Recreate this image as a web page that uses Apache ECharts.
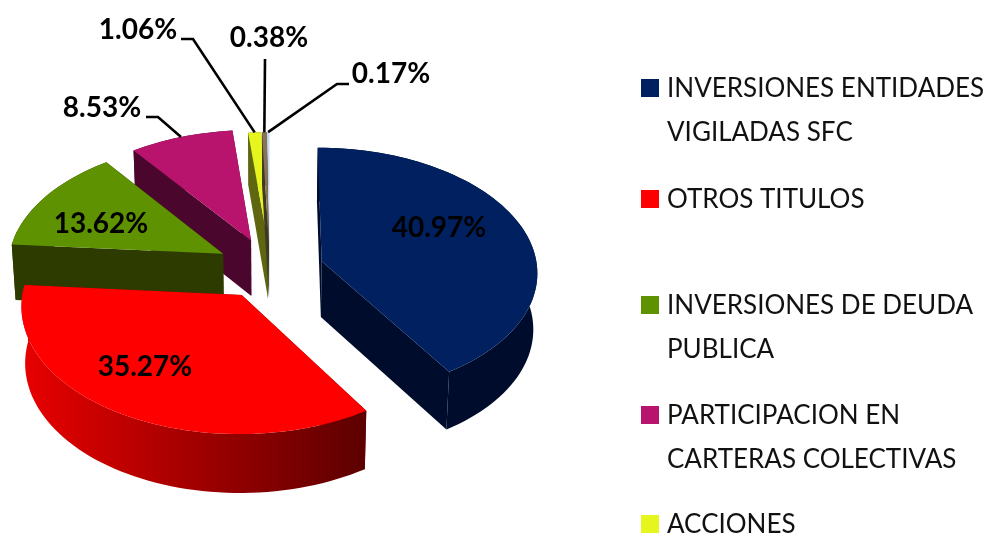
<!DOCTYPE html>
<html>
<head>
<meta charset="utf-8">
<style>html,body{margin:0;padding:0;background:#fff}#chart{width:993px;height:537px}</style>
<script src="https://cdn.jsdelivr.net/npm/echarts@6/dist/echarts.min.js"></script>
</head>
<body>
<div id="chart"></div>
<script>
// shares as printed on the slices, clockwise from 12 o'clock
var shares = [40.97, 35.27, 13.62, 8.53, 1.06, 0.38, 0.17]
var legendNames = [
  'INVERSIONES ENTIDADES\nVIGILADAS SFC',
  'OTROS TITULOS',
  'INVERSIONES DE DEUDA\nPUBLICA',
  'PARTICIPACION EN\nCARTERAS COLECTIVAS',
  'ACCIONES'
]

var topColors = ['#002060', '#ff0000', '#5f9200', '#b8146e', '#e6f51e', '#8a7355', '#c5d9f1']
var wallFrom = ['#000c2b', '#e80000', '#2d3b00', '#4a062c', '#5f6610', '#3e3a22', '#8ea0b8']
var wallTo = ['#000c2b', '#5c0000', '#2d3b00', '#4a062c', '#5f6610', '#3e3a22', '#8ea0b8']
var radialColors = ['#000c2b', '#7a0000', '#2d3b00', '#4a062c', '#5f6610', '#3e3a22', '#8ea0b8']
// how far each slice is pulled out, in pie radii (sideways, towards the viewer)
var pullU = [0.25, -0.12, -0.21, -0.08, 0.0, 0.004, 0.006]
var pullV = [-0.08, 0.19, -0.14, -0.25, -0.23, -0.23, -0.23]
var paintOrder = [5, 6, 3, 2, 1, 7, 4] // back slices first, red last
var labelPos = [[439, 228], [145, 367], [101, 224], [102, 108], [138, 30], [269, 38], [391, 74]]
var elbows = [null, null, null, [[146, 117], [158, 117]], [[181, 39], [193, 39]], [[265, 59]], [[349, 84], [337, 84]]]

// pie geometry and perspective
var cx = 268, cy = 271, rx = 216, ry = 124, persp = 0.08, depth = 56
var startDeg = 0

function project(u, v, low) {
  var s = 1 / (1 - persp * v)
  var x = cx + rx * u * s
  var y = cy + ry * v * s
  if (low) {
    x = cx + (x - cx) * 0.985
    y += depth * Math.sqrt(s)
  }
  return [x, y]
}

function sliceAngles(i) {
  var total = shares.reduce(function (a, b) { return a + b }, 0)
  var before = 0
  for (var k = 0; k < i; k++) before += shares[k]
  return [startDeg + before / total * 360, startDeg + (before + shares[i]) / total * 360]
}

function renderSlice(params, api) {
  var i = params.dataIndex
  var ang = sliceAngles(i)
  var mid = (ang[0] + ang[1]) / 2 * Math.PI / 180
  var ou = pullU[i]
  var ov = pullV[i]
  var steps = Math.max(2, Math.ceil((ang[1] - ang[0]) / 2))
  var rimTop = [], rimLow = []
  for (var n = 0; n <= steps; n++) {
    var t = (ang[0] + (ang[1] - ang[0]) * n / steps) * Math.PI / 180
    var u = ou + Math.sin(t), v = ov - Math.cos(t)
    rimTop.push(project(u, v, false))
    rimLow.push(project(u, v, true))
  }
  var apexTop = project(ou, ov, false)
  var apexLow = project(ou, ov, true)
  var z = paintOrder[i] * 10
  var xs = rimTop.map(function (p) { return p[0] })
  var wallFill = new echarts.graphic.LinearGradient(
    Math.min.apply(null, xs), 0, Math.max.apply(null, xs), 0,
    [{ offset: 0, color: wallFrom[i] }, { offset: 1, color: wallTo[i] }], true)

  function poly(points, fill, z2) {
    return { type: 'polygon', shape: { points: points }, style: { fill: fill }, z2: z2, silent: true }
  }
  var children = [
    poly([apexTop, rimTop[0], rimLow[0], apexLow], radialColors[i], z),
    poly([apexTop, rimTop[steps], rimLow[steps], apexLow], radialColors[i], z),
    poly(rimTop.concat(rimLow.slice().reverse()), wallFill, z + 1),
    poly([apexTop].concat(rimTop), topColors[i], z + 2)
  ]

  // outside labels get an elbow line down to the middle of the rim
  if (elbows[i]) {
    var rimMid = project(ou + Math.sin(mid), ov - Math.cos(mid), false)
    children.push({
      type: 'polyline',
      shape: { points: elbows[i].concat([rimMid]) },
      style: { stroke: '#000', lineWidth: 2.6, fill: null },
      z2: 200,
      silent: true
    })
  }
  children.push({
    type: 'text',
    x: labelPos[i][0],
    y: labelPos[i][1],
    style: {
      text: api.value(0).toFixed(2) + '%',
      fill: '#000',
      font: 'bold 28px Lato',
      align: 'center',
      verticalAlign: 'middle'
    },
    z2: 210,
    silent: true
  })
  return { type: 'group', children: children }
}

var legendY = [89, 200, 306, 416, 525]
var legendGraphics = []
legendNames.forEach(function (name, i) {
  legendGraphics.push({
    type: 'rect',
    shape: { x: 641, y: legendY[i] - 10, width: 18, height: 18 },
    style: { fill: topColors[i] }
  })
  name.split('\n').forEach(function (line, n) {
    legendGraphics.push({
      type: 'text',
      x: 667,
      y: legendY[i] + n * 44,
      style: { text: line, fill: '#111', font: '26px Lato', verticalAlign: 'middle' }
    })
  })
})

var chart = echarts.init(document.getElementById('chart'))
chart.setOption({
  animation: false,
  backgroundColor: '#fff',
  tooltip: { show: false },
  graphic: legendGraphics,
  series: [{
    type: 'custom',
    coordinateSystem: 'none',
    clip: false,
    renderItem: renderSlice,
    data: shares.map(function (s) { return [s] })
  }]
})
</script>
</body>
</html>
